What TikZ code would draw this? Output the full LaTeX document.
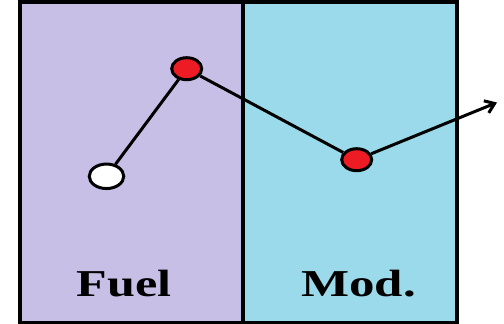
\documentclass[tikz,border=0pt]{standalone}
\usepackage{fontspec}
\setmainfont{Liberation Serif}
\usepackage{xcolor}
\usetikzlibrary{shapes.geometric,arrows.meta}

\definecolor{fuelcol}{RGB}{199,191,230}
\definecolor{modcol}{RGB}{155,218,234}
\definecolor{hitred}{RGB}{237,28,36}

\begin{document}
\begin{tikzpicture}[x=1pt,y=1pt,>={Straight Barb[length=9pt,width=13pt]},
  site/.style={ellipse,draw,line width=3pt,inner sep=0pt,minimum width=30pt,minimum height=22pt},
  region/.style={font=\fontsize{38}{38}\selectfont\bfseries,anchor=base,inner sep=0pt}]
\useasboundingbox (0,0) rectangle (504,324);

% regions
\fill[fuelcol] (19.5,1) rectangle (243,321.5);
\fill[modcol] (243,1) rectangle (457,321.5);
\draw[line width=4pt] (19.5,1) rectangle (457,321.5);
\draw[line width=4pt] (243,1) -- (243,321.5);

\node[region] (fuel) at (124,27) {\scalebox{1.32}[1]{Fuel}};
\node[region] (mod) at (358.5,27) {\scalebox{1.34}[1]{Mod.}};

% path of the neutron
\node[site,fill=white,minimum width=34.5pt,minimum height=24.5pt] (start) at (106.5,147.7) {};
\node[site,fill=hitred] (peak) at (186.7,255.3) {};
\node[site,fill=hitred] (scatter) at (356.7,164.3) {};
\coordinate (out) at (497,221.5);

\draw[line width=3pt] (start) -- (peak);
\draw[line width=3pt] (peak) -- (scatter);
\draw[line width=3pt,->] (scatter) -- (out);

\end{tikzpicture}
\end{document}
